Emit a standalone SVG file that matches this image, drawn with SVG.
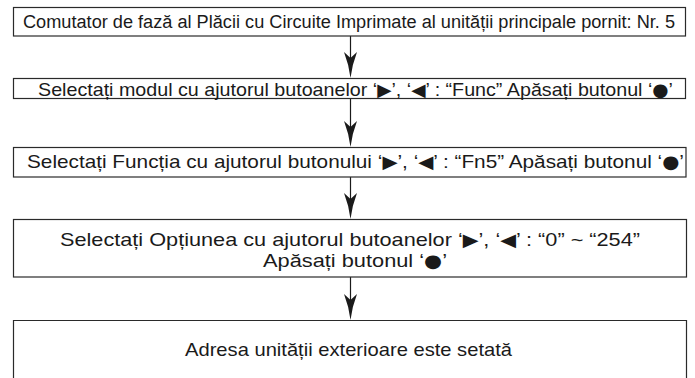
<svg xmlns="http://www.w3.org/2000/svg" width="695" height="378" viewBox="0 0 695 378">
<style>
.box{fill:#fff;stroke:#2a2a2a;stroke-width:1.2}
.t{font-family:"Liberation Sans","DejaVu Sans",sans-serif;font-size:19px;fill:#1a1a1a;text-anchor:middle}
.g{font-family:"DejaVu Sans",sans-serif;font-size:18px}
.ln{stroke:#1a1a1a;stroke-width:1.2;fill:none}
.ah{fill:#1a1a1a}
</style>
<defs>
<path id="head" d="M-6.5,0 L0,6 L6.5,0 Q1.5,13 0,26 Q-1.5,13 -6.5,0 Z"/>
</defs>
<rect width="695" height="378" fill="#fff"/>
<g id="connectors">
<line class="ln" x1="350.5" y1="36" x2="350.5" y2="60"/>
<use href="#head" class="ah" transform="translate(350.5,52)"/>
<line class="ln" x1="350.5" y1="98" x2="350.5" y2="128"/>
<use href="#head" class="ah" transform="translate(350.5,121)"/>
<line class="ln" x1="350.5" y1="177" x2="350.5" y2="200"/>
<use href="#head" class="ah" transform="translate(350.5,193)"/>
<line class="ln" x1="350.5" y1="277" x2="350.5" y2="300"/>
<use href="#head" class="ah" transform="translate(350.5,294)"/>
</g>
<g id="n1">
<rect class="box" x="13.5" y="7.5" width="672" height="28.5"/>
<text class="t" x="349" y="28" font-size="18" style="font-size:18px" textLength="652" lengthAdjust="spacingAndGlyphs">Comutator de fază al Plăcii cu Circuite Imprimate al unității principale pornit: Nr. 5</text>
</g>
<g id="n2">
<rect class="box" x="13.5" y="78.5" width="672" height="20"/>
<text class="t" x="355.5" y="96" textLength="635" lengthAdjust="spacingAndGlyphs">Selectați modul cu ajutorul butoanelor ‘<tspan class="g">▶</tspan>’, ‘<tspan class="g">◀</tspan>’ : “Func” Apăsați butonul ‘<tspan class="g">●</tspan>’</text>
</g>
<g id="n3">
<rect class="box" x="13.5" y="147.5" width="672.5" height="29.5"/>
<text class="t" x="355.5" y="168" textLength="657" lengthAdjust="spacingAndGlyphs">Selectați Funcția cu ajutorul butonului ‘<tspan class="g">▶</tspan>’, ‘<tspan class="g">◀</tspan>’ : “Fn5” Apăsați butonul ‘<tspan class="g">●</tspan>’</text>
</g>
<g id="n4">
<rect class="box" x="13.5" y="219.5" width="673" height="57.5"/>
<text class="t" x="350" y="246" textLength="580" lengthAdjust="spacingAndGlyphs">Selectați Opțiunea cu ajutorul butoanelor ‘<tspan class="g">▶</tspan>’, ‘<tspan class="g">◀</tspan>’ : “0” ~ “254”</text>
<text class="t" x="355" y="267" textLength="184" lengthAdjust="spacingAndGlyphs">Apăsați butonul ‘<tspan class="g">●</tspan>’</text>
</g>
<g id="n5">
<path class="box" d="M13.5,378 L13.5,320.5 L686.5,320.5 L686.5,378"/>
<text class="t" x="348.5" y="356" textLength="327" lengthAdjust="spacingAndGlyphs">Adresa unității exterioare este setată</text>
</g>
</svg>
